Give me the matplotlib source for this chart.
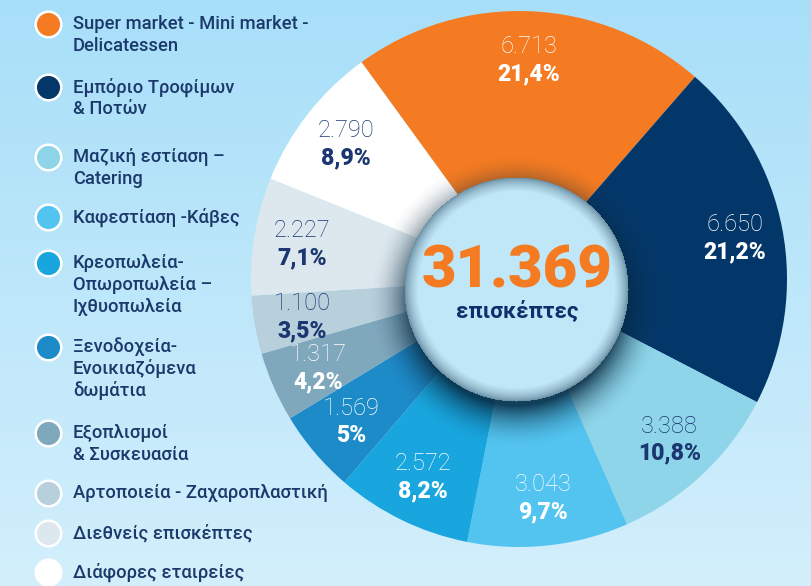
import matplotlib
matplotlib.use('Agg')
import matplotlib.pyplot as plt
import numpy as np


### Data ###

categories = [
    'Super market - Mini market -\nDelicatessen',
    'Εμπόριο Τροφίμων\n& Ποτών',
    'Μαζική εστίαση –\nCatering',
    'Καφεστίαση -Κάβες',
    'Κρεοπωλεία-\nΟπωροπωλεία –\nΙχθυοπωλεία',
    'Ξενοδοχεία-\nΕνοικιαζόμενα\nδωμάτια',
    'Εξοπλισμοί\n& Συσκευασία',
    'Αρτοποιεία - Ζαχαροπλαστική',
    'Διεθνείς επισκέπτες',
    'Διάφορες εταιρείες',
]
visitors = [6713, 6650, 3388, 3043, 2572, 1569, 1317, 1100, 2227, 2790]
total_label = 'επισκέπτες'


### Styles ###

W, H = 811, 586
colors = ['#f47b22', '#043769', '#8ed5ea', '#53c4f0', '#19a6df',
          '#1e8bc9', '#80a8bd', '#b8cfdc', '#dde8ee', '#ffffff']
navy = '#1b3670'
label_colors = ['white', 'white', navy, 'white', 'white',
                'white', 'white', navy, navy, navy]
legend_y = [24, 87, 157, 217, 263, 347, 433, 493, 533, 572]

plt.rcParams['font.family'] = ['Roboto', 'DejaVu Sans']


def fmt_thousands(v):
    return f"{v:,}".replace(',', '.')


def fmt_pct(v, total):
    p = round(v / total * 100, 1)
    s = f"{p:.1f}".replace('.', ',')
    if s.endswith(',0'):
        s = s[:-2]
    return s + '%'


def draw_background(ax):
    """ Vertical light blue gradient. """
    top = np.array([0.659, 0.875, 0.976])
    bot = np.array([0.827, 0.937, 0.988])
    t = np.linspace(0, 1, 200)[:, None]
    grad = (top * (1 - t) + bot * t)[:, None, :]
    ax.imshow(grad, extent=[0, W, 0, H], origin='upper', aspect='auto', zorder=0)


def draw_center_disc(ax, cx, cy, r):
    """ Light disc with edge shading and a drop shadow below. """
    xs = np.arange(0, W)
    ys = np.arange(0, H)
    X, Y = np.meshgrid(xs, ys)
    # drop shadow (offset downwards in pixel space)
    ds = np.hypot(X - cx, Y - (cy + 12))
    a_sh = np.clip(1 - (ds - (r - 8)) / 45, 0, 1) ** 2 * 0.85
    img = np.zeros((H, W, 4))
    img[..., :3] = np.array([0.03, 0.16, 0.25])
    img[..., 3] = a_sh
    # disc itself
    d = np.hypot(X - cx, Y - cy)
    inside = d <= r
    fill = np.array([0.753, 0.906, 0.973])
    edge = np.array([0.38, 0.52, 0.60])
    t = np.clip((r - d) / 14, 0, 1) ** 0.6
    disc = edge * (1 - t[..., None]) + fill * t[..., None]
    img[inside, :3] = disc[inside]
    img[inside, 3] = 1
    ax.imshow(img, extent=[0, W, 0, H], origin='upper', aspect='auto', zorder=3,
              interpolation='bilinear')


def main():
    fig = plt.figure(figsize=(W / 100, H / 100), dpi=100)
    ax = fig.add_axes([0, 0, 1, 1])

    draw_background(ax)

    # Donut wedges
    cx, cy, R = 519, H - 279, 268
    total = sum(visitors)
    wedges, _ = ax.pie(visitors, colors=colors, startangle=126, counterclock=False,
                       center=(cx, cy), radius=R, frame=True,
                       wedgeprops=dict(linewidth=0))
    for w in wedges:
        w.set_zorder(2)
    ax.set_xlim(0, W)
    ax.set_ylim(0, H)
    ax.set_aspect('equal')
    ax.axis('off')

    # Wedge labels
    for w, v, c in zip(wedges, visitors, label_colors):
        ang = np.deg2rad((w.theta1 + w.theta2) / 2)
        lx = cx + 0.82 * R * np.cos(ang)
        ly = cy + 0.82 * R * np.sin(ang)
        ax.text(lx, ly + 13, fmt_thousands(v), ha='center', va='center',
                fontsize=17, color=c, fontweight='light', zorder=5)
        ax.text(lx, ly - 14, fmt_pct(v, total), ha='center', va='center',
                fontsize=16.5, color=c, fontweight='black', zorder=5)

    # Center disc and total
    draw_center_disc(ax, 516, 289, 112)
    ax.text(517, H - 272, fmt_thousands(total), ha='center', va='center',
            fontsize=43, fontweight='black', color='#f47b22', zorder=6)
    ax.text(517, H - 312, total_label, ha='center', va='center',
            fontsize=16, fontweight='bold', color='#0d2f6b', zorder=6)

    # Legend
    for y, lab, col in zip(legend_y, categories, colors):
        ax.scatter([48], [H - y], s=340, color=col, edgecolors='white',
                   linewidths=1.8, zorder=6)
        for i, line in enumerate(lab.split('\n')):
            ax.text(73, H - y - i * 22, line, ha='left', va='center',
                    fontsize=13.2, fontweight='medium', color='#1b3a6b', zorder=6)

    fig.savefig('out.png', dpi=100)


if __name__ == "__main__":
    main()
